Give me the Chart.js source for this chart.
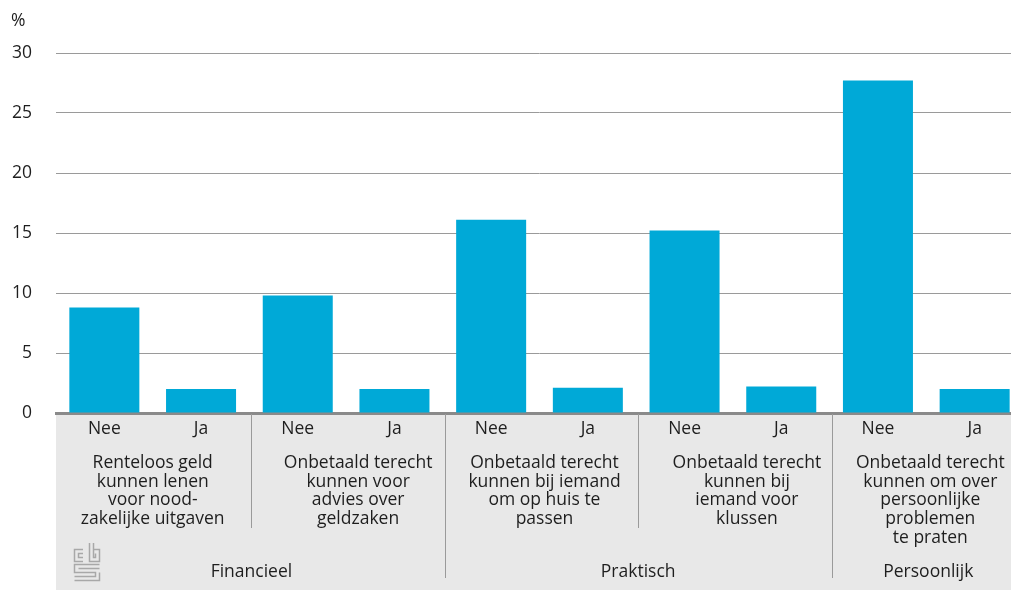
<!DOCTYPE html>
<html>
<head>
<meta charset="utf-8">
<script src="https://cdn.jsdelivr.net/npm/chart.js@4/dist/chart.umd.min.js"></script>
<style>
    html, body { margin: 0; padding: 0; background: #fff; overflow: hidden; }
    #wrap { width: 1023px; height: 590px; position: relative; }
</style>
</head>
<body>
<div id="wrap"><canvas id="steunChart"></canvas></div>
<script>
// categorieen (Nee/Ja per soort steun)
const antwoorden = ["Nee", "Ja", "Nee", "Ja", "Nee", "Ja", "Nee", "Ja", "Nee", "Ja"];
const percentages = [8.8, 2.0, 9.8, 2.0, 16.1, 2.1, 15.2, 2.2, 27.7, 2.0];
const steunLabels = [
    ["Renteloos geld", "kunnen lenen", "voor nood-", "zakelijke uitgaven"],
    ["Onbetaald terecht", "kunnen voor", "advies over", "geldzaken"],
    ["Onbetaald terecht", "kunnen bij iemand", "om op huis te", "passen"],
    ["Onbetaald terecht", "kunnen bij", "iemand voor", "klussen"],
    ["Onbetaald terecht", "kunnen om over", "persoonlijke", "problemen", "te praten"],
];
const hoofdgroepen = ["Financieel", "Praktisch", "Persoonlijk"];
const hoofdgroepStart = [0, 4, 8];   // index van eerste balk per hoofdgroep
const hoofdgroepEind = [3, 7, 9];
const yTicks = [0, 5, 10, 15, 20, 25, 30];

const FONT = "'Open Sans', 'Noto Sans', sans-serif";
const FS = 17.5;
const TEXT = "#1e1e1e";
const LINE = "#9a9a9a";
// kleine verschuiving van de tekstblokken zoals in het origineel
const labelShift = [0, 12, 5, 14, 4];

const groepPlugin = {
    id: "groepPlugin",
    beforeDraw(chart) {
        const ctx = chart.ctx;
        const area = chart.chartArea;
        ctx.save();
        ctx.fillStyle = "#e8e8e8";
        ctx.fillRect(area.left, area.bottom, chart.width - area.left, chart.height - area.bottom);
        ctx.restore();
    },
    afterDraw(chart) {
        const ctx = chart.ctx;
        const x = chart.scales.x;
        const area = chart.chartArea;
        const w = x.getPixelForValue(1) - x.getPixelForValue(0);
        ctx.save();
        ctx.fillStyle = TEXT;
        ctx.textBaseline = "middle";
        ctx.font = FS + "px " + FONT;

        // "%" boven de y-as
        ctx.textAlign = "left";
        ctx.fillText("%", 11, 21);
        ctx.textAlign = "center";

        // scheidingslijnen
        ctx.strokeStyle = LINE;
        ctx.lineWidth = 1;
        for (let i = 2; i < antwoorden.length; i += 2) {
            const sx = Math.round(x.getPixelForValue(i) - w / 2 + 2) + 0.5;
            const lang = hoofdgroepStart.includes(i);
            ctx.beginPath();
            ctx.moveTo(sx, area.bottom + 1);
            ctx.lineTo(sx, lang ? area.bottom + 165 : area.bottom + 115);
            ctx.stroke();
        }

        // labels per soort steun
        steunLabels.forEach((regels, g) => {
            const cx = (x.getPixelForValue(g * 2) + x.getPixelForValue(g * 2 + 1)) / 2 + labelShift[g];
            regels.forEach((r, k) => {
                ctx.fillText(r, cx, area.bottom + 50 + k * 18.7);
            });
        });

        // hoofdgroepen
        hoofdgroepen.forEach((naam, g) => {
            const a = x.getPixelForValue(hoofdgroepStart[g]) - w / 2;
            const b = x.getPixelForValue(hoofdgroepEind[g]) + w / 2;
            ctx.fillText(naam, (a + b) / 2 + 2, area.bottom + 159);
        });

        // cbs-logo (vereenvoudigd)
        ctx.strokeStyle = "#a8a8a8";
        ctx.lineWidth = 1.5;
        ctx.beginPath();
        // c
        ctx.moveTo(83, 549.5); ctx.lineTo(74.5, 549.5); ctx.lineTo(74.5, 561.5); ctx.lineTo(83, 561.5);
        ctx.moveTo(83, 553.5); ctx.lineTo(78.5, 553.5); ctx.lineTo(78.5, 557.5); ctx.lineTo(83, 557.5);
        // b
        ctx.moveTo(89.5, 543); ctx.lineTo(89.5, 561.5); ctx.lineTo(99.5, 561.5); ctx.lineTo(99.5, 549.5); ctx.lineTo(93.5, 549.5);
        ctx.moveTo(93.5, 543); ctx.lineTo(93.5, 557.5); ctx.lineTo(95.5, 557.5); ctx.lineTo(95.5, 553.5);
        // s
        ctx.moveTo(99.5, 564.5); ctx.lineTo(74.5, 564.5); ctx.lineTo(74.5, 572.5); ctx.lineTo(95.5, 572.5); ctx.lineTo(95.5, 576.5); ctx.lineTo(74.5, 576.5);
        ctx.moveTo(99.5, 568.5); ctx.lineTo(78.5, 568.5);
        ctx.moveTo(99.5, 572.5); ctx.lineTo(99.5, 580.5); ctx.lineTo(74.5, 580.5);
        ctx.stroke();
        ctx.restore();
    },
};

function renderSteunChart() {
    const ctx = document.getElementById("steunChart").getContext("2d");
    new Chart(ctx, {
        type: "bar",
        data: {
            labels: antwoorden,
            datasets: [
                {
                    data: percentages,
                    backgroundColor: "#00a9d7",
                    barPercentage: 0.724,
                    categoryPercentage: 1,
                },
            ],
        },
        options: {
            responsive: true,
            maintainAspectRatio: false,
            animation: false,
            layout: { padding: { top: 53, right: 0, bottom: 0, left: 0 } },
            plugins: {
                legend: { display: false },
                tooltip: { enabled: false },
            },
            scales: {
                x: {
                    afterFit: (s) => { s.height = 177; },
                    grid: { display: false, drawTicks: false },
                    border: { display: true, color: "#8a8a8a", width: 3 },
                    ticks: { color: TEXT, font: { family: FONT, size: FS }, padding: 6 },
                },
                y: {
                    min: 0,
                    max: 30,
                    afterFit: (s) => { s.width = 56; },
                    afterBuildTicks: (s) => { s.ticks = yTicks.map((v) => ({ value: v })); },
                    grid: { color: LINE, lineWidth: 1, drawTicks: false },
                    border: { display: false },
                    ticks: { color: TEXT, font: { family: FONT, size: FS }, padding: 24 },
                },
            },
        },
        plugins: [groepPlugin],
    });
}

document.addEventListener("DOMContentLoaded", function () {
    renderSteunChart();
});
</script>
</body>
</html>
